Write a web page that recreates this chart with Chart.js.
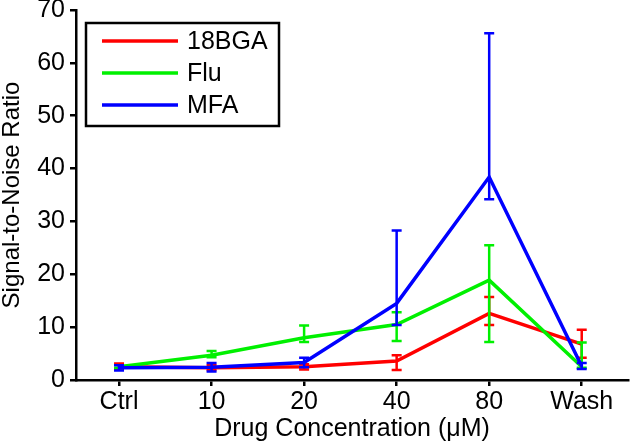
<!DOCTYPE html>
<html>
<head>
<meta charset="utf-8">
<script src="https://cdn.jsdelivr.net/npm/chart.js@4"></script>
<style>
  html, body { margin: 0; padding: 0; background: #fff; }
  #wrap { width: 631px; height: 448px; }
</style>
</head>
<body>
<div id="wrap"><canvas id="snrChart" width="631" height="448"></canvas></div>
<script>
// Categories on the x axis
const categories = ['Ctrl', '10', '20', '40', '80', 'Wash'];

// Mean signal-to-noise per series
const bga18 = [2.5, 2.3, 2.5, 3.6, 12.6, 6.8];
const flu = [2.5, 4.7, 8.0, 10.5, 18.9, 2.5];
const mfa = [2.3, 2.4, 3.3, 14.5, 38.4, 2.6];

// Error bar bounds [low, high]
const bga18Err = [[2.0, 3.1], [1.9, 2.8], [2.0, 3.0], [1.9, 4.7], [10.4, 15.7], [4.2, 9.5]];
const fluErr = [[2.2, 2.8], [4.3, 5.5], [7.2, 10.3], [7.4, 12.8], [7.2, 25.5], [2.3, 7.1]];
const mfaErr = [[1.8, 2.8], [1.6, 3.2], [2.4, 4.2], [10.4, 28.3], [34.2, 65.6], [2.1, 3.2]];

const yTicks = [0, 10, 20, 30, 40, 50, 60, 70];

const RED = '#ff0000';
const GREEN = '#00f000';
const BLUE = '#0000ff';

const font = "'Liberation Sans', Arial, sans-serif";

function toPoints(values) {
    return values.map((v, i) => ({ x: i, y: v }));
}

// Draw error bars after each dataset so later lines cover earlier bars
const errorBarPlugin = {
    id: 'errorBars',
    afterDatasetDraw(chart, args) {
        const ds = chart.data.datasets[args.index];
        if (!ds.errors) return;
        const ctx = chart.ctx;
        const xs = chart.scales.x;
        const ys = chart.scales.y;
        ctx.save();
        ctx.strokeStyle = ds.borderColor;
        ctx.lineWidth = 2.5;
        ds.errors.forEach((e, i) => {
            const px = xs.getPixelForValue(i);
            const lo = ys.getPixelForValue(e[0]);
            const hi = ys.getPixelForValue(e[1]);
            ctx.beginPath();
            ctx.moveTo(px, lo);
            ctx.lineTo(px, hi);
            ctx.moveTo(px - 5, lo);
            ctx.lineTo(px + 5, lo);
            ctx.moveTo(px - 5, hi);
            ctx.lineTo(px + 5, hi);
            ctx.stroke();
        });
        ctx.restore();
    }
};

// Boxed legend in the upper left of the plot
const boxLegendPlugin = {
    id: 'boxLegend',
    afterDraw(chart) {
        const ctx = chart.ctx;
        const area = chart.chartArea;
        const x0 = area.left + 10;
        const y0 = area.top + 13;
        const w = 193;
        const h = 103;
        ctx.save();
        ctx.fillStyle = '#fff';
        ctx.fillRect(x0, y0, w, h);
        ctx.strokeStyle = '#000';
        ctx.lineWidth = 2.5;
        ctx.strokeRect(x0, y0, w, h);
        ctx.font = '25px ' + font;
        ctx.textBaseline = 'middle';
        chart.data.datasets.forEach((ds, i) => {
            const cy = y0 + 18 + i * 32;
            ctx.strokeStyle = ds.borderColor;
            ctx.lineWidth = 3.5;
            ctx.beginPath();
            ctx.moveTo(x0 + 16, cy);
            ctx.lineTo(x0 + 92, cy);
            ctx.stroke();
            ctx.fillStyle = '#000';
            ctx.fillText(ds.label, x0 + 101, cy + 1);
        });
        ctx.restore();
    }
};

function makeDataset(label, values, errors, color, order) {
    return {
        label: label,
        data: toPoints(values),
        errors: errors,
        borderColor: color,
        backgroundColor: color,
        borderWidth: 3.5,
        pointRadius: 0,
        tension: 0,
        fill: false,
        order: order
    };
}

new Chart(document.getElementById('snrChart'), {
    type: 'line',
    data: {
        datasets: [
            makeDataset('18BGA', bga18, bga18Err, RED, 3),
            makeDataset('Flu', flu, fluErr, GREEN, 2),
            makeDataset('MFA', mfa, mfaErr, BLUE, 1)
        ]
    },
    options: {
        responsive: false,
        animation: false,
        layout: { padding: { top: 0, right: 3, left: 0, bottom: 0 } },
        plugins: {
            legend: { display: false },
            tooltip: { enabled: false }
        },
        scales: {
            x: {
                type: 'linear',
                min: -0.465,
                max: 5.5,
                afterBuildTicks(axis) {
                    axis.ticks = categories.map((c, i) => ({ value: i }));
                },
                afterFit(axis) { axis.height = 68; },
                border: { display: true, color: '#000', width: 2.5 },
                grid: { drawOnChartArea: false, drawTicks: true, tickLength: 6, color: '#000', lineWidth: 2.5 },
                ticks: {
                    color: '#000',
                    font: { family: font, size: 25, lineHeight: 1 },
                    padding: 4,
                    maxRotation: 0,
                    callback: (v) => categories[v]
                },
                title: {
                    display: true,
                    text: 'Drug Concentration (μM)',
                    color: '#000',
                    font: { family: font, size: 25, lineHeight: 1 },
                    padding: { top: 0, bottom: 6 }
                }
            },
            y: {
                min: 0,
                max: 70,
                afterBuildTicks(axis) {
                    axis.ticks = yTicks.map(v => ({ value: v }));
                },
                afterFit(axis) {
                    axis.width = 76;
                    axis.paddingTop = 10;
                },
                border: { display: true, color: '#000', width: 2.5 },
                grid: { drawOnChartArea: false, drawTicks: true, tickLength: 6, color: '#000', lineWidth: 2.5 },
                ticks: {
                    color: '#000',
                    font: { family: font, size: 25, lineHeight: 1 },
                    padding: 5
                },
                title: {
                    display: true,
                    text: 'Signal-to-Noise Ratio',
                    color: '#000',
                    font: { family: font, size: 24, lineHeight: 1 },
                    padding: { top: 0, bottom: 4 }
                }
            }
        }
    },
    plugins: [errorBarPlugin, boxLegendPlugin]
});
</script>
</body>
</html>
